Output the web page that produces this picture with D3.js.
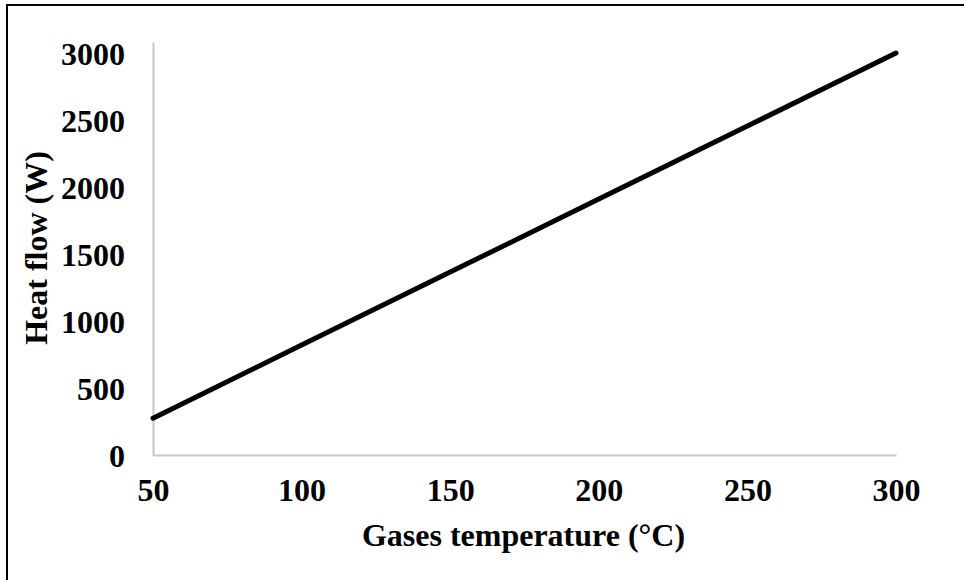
<!DOCTYPE html>
<html>
<head>
<meta charset="utf-8">
<script src="https://cdn.jsdelivr.net/npm/d3@7"></script>
<style>
  html, body { margin: 0; padding: 0; background: #fff; }
  svg { display: block; }
  text { font-family: "Liberation Serif", "Times New Roman", serif; font-weight: bold; fill: #000; }
</style>
</head>
<body>
<svg id="chart" width="964" height="580"></svg>
<script>
// Heat flow against flue gas temperature
const temperatures = [50, 100, 150, 200, 250, 300];
const heatFlow = [275, 820, 1365, 1910, 2455, 3000];
const xTicks = [50, 100, 150, 200, 250, 300];
const yTicks = [0, 500, 1000, 1500, 2000, 2500, 3000];
const xTitle = "Gases temperature (°C)";
const yTitle = "Heat flow (W)";

const svg = d3.select("#chart");
const W = 964, H = 580;
const plot = { left: 153, right: 896, top: 42, bottom: 455 };
const fontSize = 32;

// outer frame (runs off the right and bottom edges)
svg.append("rect")
  .attr("x", 7).attr("y", 5)
  .attr("width", W + 20).attr("height", H + 20)
  .attr("fill", "none").attr("stroke", "#000").attr("stroke-width", 2);

const x = d3.scaleLinear().domain([50, 300]).range([plot.left, plot.right]);
const y = d3.scaleLinear().domain([0, 3082]).range([plot.bottom, plot.top]);

// axes
const xAxis = svg.append("g")
  .attr("transform", `translate(0,${plot.bottom})`)
  .call(d3.axisBottom(x).tickValues(xTicks).tickSize(0).tickPadding(23).tickFormat(d3.format("d")));
const yAxis = svg.append("g")
  .attr("transform", `translate(${plot.left},0)`)
  .call(d3.axisLeft(y).tickValues(yTicks).tickSize(0).tickPadding(28).tickFormat(d3.format("d")));

[xAxis, yAxis].forEach(g => {
  g.select(".domain").attr("stroke", "#c8c8c8").attr("stroke-width", 2);
  g.selectAll("text")
    .attr("font-family", "Liberation Serif, Times New Roman, serif")
    .attr("font-weight", "bold")
    .attr("font-size", fontSize)
    .attr("fill", "#000");
});
yAxis.selectAll("text").attr("dy", "0.35em");
xAxis.selectAll("text").attr("dy", "0.71em");

// series line
const line = d3.line().x((d, i) => x(temperatures[i])).y(d => y(d));
svg.append("path")
  .datum(heatFlow)
  .attr("d", line)
  .attr("fill", "none")
  .attr("stroke", "#000")
  .attr("stroke-width", 5)
  .attr("stroke-linecap", "round");

// axis titles
svg.append("text")
  .attr("x", (plot.left + plot.right) / 2 - 1)
  .attr("y", 546)
  .attr("text-anchor", "middle")
  .attr("font-size", fontSize)
  .text(xTitle);

svg.append("text")
  .attr("transform", `translate(47,248) rotate(-90)`)
  .attr("text-anchor", "middle")
  .attr("font-size", fontSize)
  .text(yTitle);
</script>
</body>
</html>
